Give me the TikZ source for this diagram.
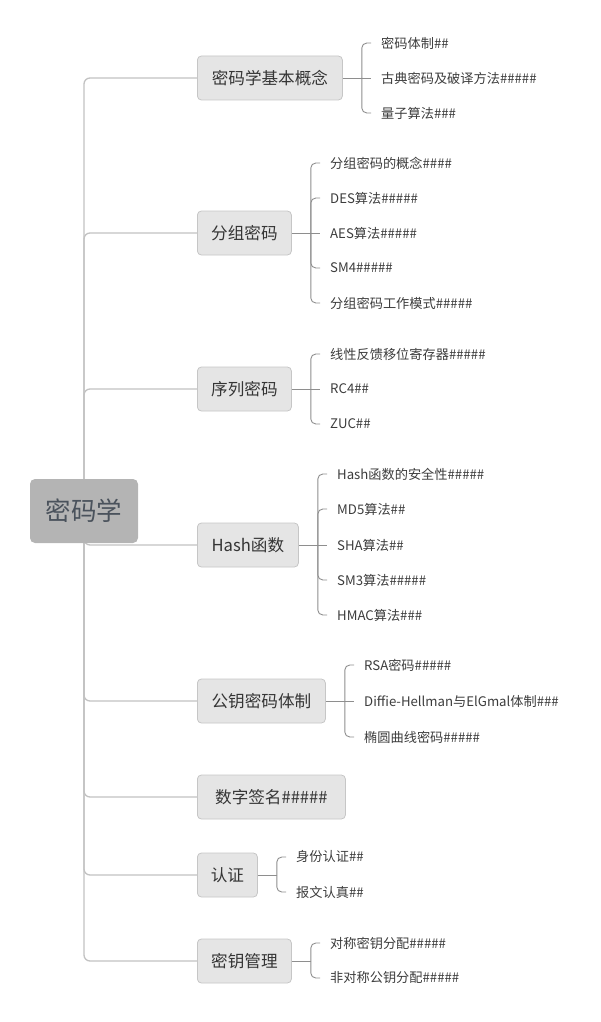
\documentclass[tikz,border=0pt]{standalone}
\usepackage{fontspec}
\setmainfont{Noto Sans CJK SC}
\usetikzlibrary{backgrounds,calc}
\definecolor{trunkc}{HTML}{C2C2C2}
\definecolor{twigc}{HTML}{8E8E8E}
\definecolor{rootfill}{HTML}{B4B4B4}
\definecolor{roottext}{HTML}{4A525C}
\definecolor{topicfill}{HTML}{E5E5E5}
\definecolor{topicline}{HTML}{C6C6C6}
\definecolor{topictext}{HTML}{353535}
\definecolor{leaftext}{HTML}{3C3C3C}
\begin{document}
\begin{tikzpicture}[x=1pt,y=-1pt,
  rootbox/.style={fill=rootfill, rounded corners=5pt, minimum width=108pt,
    minimum height=64pt, inner sep=0pt, font=\fontsize{25.5}{28}\selectfont, text=roottext},
  topic/.style={draw=topicline, line width=0.8pt, fill=topicfill, rounded corners=4pt,
    minimum height=44pt, inner sep=0pt, anchor=west,
    font=\fontsize{16.6}{18}\selectfont, text=topictext},
  leaf/.style={anchor=west, inner xsep=10pt, inner ysep=0pt,
    font=\fontsize{13.2}{15}\selectfont, text=leaftext},
  trunk/.style={draw=trunkc, line width=1.3pt, rounded corners=6pt},
  twig/.style={draw=twigc, line width=0.9pt, rounded corners=5pt},
]
\useasboundingbox (0,0) rectangle (601,1022);

% root
\node[rootbox] (root) at (84,511) {密码学};

% main topics
\node[topic, minimum width=145pt] (b1) at (197,78)  {密码学基本概念};
\node[topic, minimum width=94pt]  (b2) at (197,233) {分组密码};
\node[topic, minimum width=94pt]  (b3) at (197,389) {序列密码};
\node[topic, minimum width=101pt] (b4) at (197,545) {Hash函数};
\node[topic, minimum width=128pt] (b5) at (197,701) {公钥密码体制};
\node[topic, minimum width=148pt] (b6) at (197,797) {数字签名\#\#\#\#\#};
\node[topic, minimum width=60pt]  (b7) at (197,875) {认证};
\node[topic, minimum width=94pt]  (b8) at (197,961) {密钥管理};

% bracket points
\coordinate (k1) at ($(b1.east)+(19,0)$);
\coordinate (k2) at ($(b2.east)+(19,0)$);
\coordinate (k3) at ($(b3.east)+(19,0)$);
\coordinate (k4) at ($(b4.east)+(19,0)$);
\coordinate (k5) at ($(b5.east)+(19,0)$);
\coordinate (k7) at ($(b7.east)+(19,0)$);
\coordinate (k8) at ($(b8.east)+(19,0)$);

% sub topics
\node[leaf] (l11) at (371,43)  {密码体制\#\#};
\node[leaf] (l12) at (371,78)  {古典密码及破译方法\#\#\#\#\#};
\node[leaf] (l13) at (371,113) {量子算法\#\#\#};

\node[leaf] (l21) at (320,163) {分组密码的概念\#\#\#\#};
\node[leaf] (l22) at (320,198) {DES算法\#\#\#\#\#};
\node[leaf] (l23) at (320,233) {AES算法\#\#\#\#\#};
\node[leaf] (l24) at (320,268) {SM4\#\#\#\#\#};
\node[leaf] (l25) at (320,303) {分组密码工作模式\#\#\#\#\#};

\node[leaf] (l31) at (320,354) {线性反馈移位寄存器\#\#\#\#\#};
\node[leaf] (l32) at (320,389) {RC4\#\#};
\node[leaf] (l33) at (320,424) {ZUC\#\#};

\node[leaf] (l41) at (327,474) {Hash函数的安全性\#\#\#\#\#};
\node[leaf] (l42) at (327,509) {MD5算法\#\#};
\node[leaf] (l43) at (327,545) {SHA算法\#\#};
\node[leaf] (l44) at (327,580) {SM3算法\#\#\#\#\#};
\node[leaf] (l45) at (327,615) {HMAC算法\#\#\#};

\node[leaf] (l51) at (354,665) {RSA密码\#\#\#\#\#};
\node[leaf] (l52) at (354,701) {Diffie-Hellman与ElGmal体制\#\#\#};
\node[leaf] (l53) at (354,737) {椭圆曲线密码\#\#\#\#\#};

\node[leaf] (l71) at (286,857) {身份认证\#\#};
\node[leaf] (l72) at (286,892) {报文认真\#\#};

\node[leaf] (l81) at (320,943) {对称密钥分配\#\#\#\#\#};
\node[leaf] (l82) at (320,978) {非对称公钥分配\#\#\#\#\#};

% trunk from the root to every main topic
\begin{scope}[on background layer]
  \foreach \b in {b1,b2,b3,b4,b5,b6,b7,b8}
    \draw[trunk] (root.center) |- (\b.west);
\end{scope}

% brackets from main topics to sub topics
\draw[twig] (b1.east) -- (k1);
\draw[twig] (k1) |- (l11.west);
\draw[twig] (k1) -- (l12.west);
\draw[twig] (k1) |- (l13.west);

\draw[twig] (b2.east) -- (k2);
\draw[twig] (k2) |- (l21.west);
\draw[twig] (k2) |- (l22.west);
\draw[twig] (k2) -- (l23.west);
\draw[twig] (k2) |- (l24.west);
\draw[twig] (k2) |- (l25.west);

\draw[twig] (b3.east) -- (k3);
\draw[twig] (k3) |- (l31.west);
\draw[twig] (k3) -- (l32.west);
\draw[twig] (k3) |- (l33.west);

\draw[twig] (b4.east) -- (k4);
\draw[twig] (k4) |- (l41.west);
\draw[twig] (k4) |- (l42.west);
\draw[twig] (k4) -- (l43.west);
\draw[twig] (k4) |- (l44.west);
\draw[twig] (k4) |- (l45.west);

\draw[twig] (b5.east) -- (k5);
\draw[twig] (k5) |- (l51.west);
\draw[twig] (k5) -- (l52.west);
\draw[twig] (k5) |- (l53.west);

\draw[twig] (b7.east) -- (k7);
\draw[twig] (k7) |- (l71.west);
\draw[twig] (k7) |- (l72.west);

\draw[twig] (b8.east) -- (k8);
\draw[twig] (k8) |- (l81.west);
\draw[twig] (k8) |- (l82.west);
\end{tikzpicture}
\end{document}
